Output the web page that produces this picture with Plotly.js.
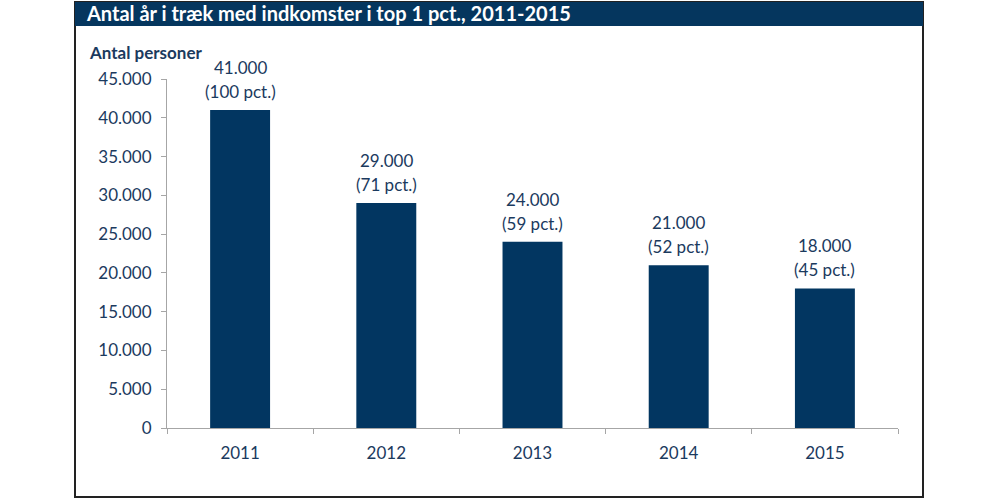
<!DOCTYPE html>
<html>
<head>
<meta charset="utf-8">
<script src="https://cdn.plot.ly/plotly-3.0.1.min.js"></script>
<style>
  html, body { margin: 0; padding: 0; background: #fff; }
  #chart { width: 1000px; height: 500px; }
</style>
</head>
<body>
<div id="chart"></div>
<script>
// Data
const years = ['2011', '2012', '2013', '2014', '2015'];
const persons = [41000, 29000, 24000, 21000, 18000];
const shares = [100, 71, 59, 52, 45];
const yTicks = [0, 5000, 10000, 15000, 20000, 25000, 30000, 35000, 40000, 45000];

const NAVY = '#023661';
const TEXT = '#1b3a5e';
const AXIS = '#a6a6a6';
const FONT = 'Lato, "Open Sans", sans-serif';

function fmt(v) {
    return String(v).replace(/\B(?=(\d{3})+(?!\d))/g, '.');
}

const trace = {
    x: years,
    y: persons,
    type: 'bar',
    width: 0.41,
    marker: { color: NAVY },
    hoverinfo: 'x+y',
};

// Labels above bars (x by category index, so '2011' is not read as a number)
function barLabel(i, text, shift) {
    return {
        x: i,
        y: persons[i],
        xref: 'x',
        yref: 'y',
        text: text,
        showarrow: false,
        yanchor: 'bottom',
        yshift: shift,
        font: { family: FONT, size: 17, color: TEXT },
    };
}
const labels = [];
years.forEach((yr, i) => {
    labels.push(barLabel(i, '(' + shares[i] + ' pct.)', 6));
    labels.push(barLabel(i, fmt(persons[i]), 30));
});

const layout = {
    width: 1000,
    height: 500,
    paper_bgcolor: '#fff',
    plot_bgcolor: '#fff',
    separators: ',.',
    margin: { l: 167, r: 102, t: 79, b: 72 },
    showlegend: false,
    title: {
        text: '<b>Antal år i træk med indkomster i top 1 pct., 2011-2015</b>',
        xref: 'container',
        yref: 'container',
        x: 0.087,
        xanchor: 'left',
        y: 1 - 14 / 500,
        yanchor: 'middle',
        font: { family: FONT, size: 20, color: '#ffffff' },
    },
    xaxis: {
        type: 'category',
        range: [-0.5, years.length - 0.5],
        showline: true,
        linecolor: AXIS,
        linewidth: 1,
        ticks: 'outside',
        tickson: 'boundaries',
        ticklen: 5,
        tickcolor: AXIS,
        showgrid: false,
        ticklabelstandoff: 10,
        tickfont: { family: FONT, size: 17, color: TEXT },
        fixedrange: true,
    },
    yaxis: {
        range: [0, 45000],
        tickvals: yTicks,
        ticktext: yTicks.map(fmt),
        showline: true,
        linecolor: AXIS,
        linewidth: 1,
        ticks: 'outside',
        ticklen: 5,
        tickcolor: AXIS,
        showgrid: false,
        zeroline: false,
        ticklabelstandoff: 6,
        tickfont: { family: FONT, size: 17, color: TEXT },
        fixedrange: true,
    },
    annotations: labels.concat([{
        text: '<b>Antal personer</b>',
        xref: 'paper',
        yref: 'paper',
        x: (87 - 167) / 731,
        y: (428 - 53) / 349,
        xanchor: 'left',
        yanchor: 'middle',
        showarrow: false,
        font: { family: FONT, size: 17, color: TEXT },
    }]),
    shapes: [
        // outer frame
        {
            type: 'rect', xref: 'paper', yref: 'paper',
            x0: (75 - 167) / 731, x1: (923 - 167) / 731,
            y0: (428 - 497) / 349, y1: (428 - 2) / 349,
            line: { color: '#222', width: 2 },
            fillcolor: 'rgba(0,0,0,0)',
            layer: 'below',
        },
        // title band
        {
            type: 'rect', xref: 'paper', yref: 'paper',
            x0: (75 - 167) / 731, x1: (923 - 167) / 731,
            y0: (428 - 26) / 349, y1: (428 - 2) / 349,
            line: { width: 0 },
            fillcolor: '#05365e',
            layer: 'below',
        },
    ],
};

Plotly.newPlot('chart', [trace], layout, { displayModeBar: false, staticPlot: true });
</script>
</body>
</html>
